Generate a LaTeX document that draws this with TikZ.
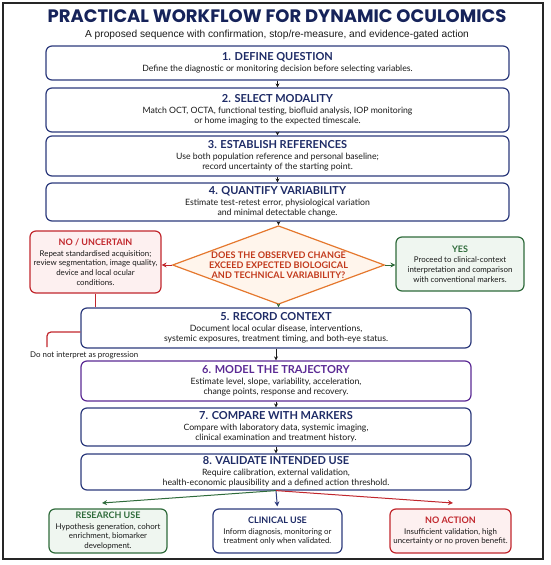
\documentclass[tikz,border=0pt]{standalone}
\usepackage{fontspec}
\setmainfont{Lato}
\newfontfamily\poppinsfont{Poppins}
\newfontfamily\subfont{Liberation Sans}
\usetikzlibrary{arrows.meta,shapes.geometric,calc}
\definecolor{navyT}{HTML}{16235A}
\definecolor{navyB}{HTML}{2C3A7C}
\definecolor{navyH}{HTML}{1E2B66}
\definecolor{redB}{HTML}{C1272D}
\definecolor{redF}{HTML}{FDF0F0}
\definecolor{greenB}{HTML}{2F6B3B}
\definecolor{greenF}{HTML}{EFF6F0}
\definecolor{orangeB}{HTML}{E5782E}
\definecolor{orangeF}{HTML}{FFF5EC}
\definecolor{orangeT}{HTML}{C2391B}
\definecolor{purpleB}{HTML}{5B2A94}
\definecolor{txt}{HTML}{1A1A1A}
\newcommand{\bodyfs}{\fontsize{8.7}{10.1}\selectfont}
\newcommand{\smbodyfs}{\fontsize{7.9}{9.6}\selectfont}
\newcommand{\hdfs}{\fontsize{11}{12.5}\selectfont\bfseries}
\newcommand{\smhdfs}{\fontsize{9}{11}\selectfont\bfseries}
\tikzset{
  boxbase/.style={draw, line width=1.2pt, rounded corners=6pt, align=center, inner sep=0pt, text=txt, font=\bodyfs},
  widebox/.style={boxbase, draw=navyB, fill=white, minimum width=463pt},
  narrowbox/.style={boxbase, draw=navyB, fill=white, minimum width=390pt},
  smallbox/.style={boxbase, font=\smbodyfs},
  redbox/.style={smallbox, draw=redB, fill=redF},
  greenbox/.style={smallbox, draw=greenB, fill=greenF},
  arr/.style={draw=txt, line width=0.8pt, -{Stealth[length=4pt,width=4pt]}},
  carr/.style={line width=1pt, -{Stealth[length=5pt,width=5pt]}},
}
\begin{document}
\begin{tikzpicture}[x=1pt,y=-1pt]
\useasboundingbox (0,0) rectangle (550,565);
\draw[line width=1.5pt, black!85] (3,3) rectangle (543,559);

\node[font=\poppinsfont\bfseries\fontsize{18}{20}\selectfont, text=navyT] (title) at (277,16) {PRACTICAL WORKFLOW FOR DYNAMIC OCULOMICS};
\node[font=\subfont\fontsize{10.2}{12}\selectfont, text=txt] (subtitle) at (277,35) {A proposed sequence with confirmation, stop/re-measure, and evidence-gated action};

\node[widebox, minimum height=34pt] (b1) at (277.5,63) {{\hdfs\color{navyH}1. DEFINE QUESTION}\\[1pt]Define the diagnostic or monitoring decision before selecting variables.};
\node[widebox, minimum height=44pt] (b2) at (277.5,110) {{\hdfs\color{navyH}2. SELECT MODALITY}\\[1pt]Match OCT, OCTA, functional testing, biofluid analysis, IOP monitoring\\or home imaging to the expected timescale.};
\node[widebox, minimum height=40pt] (b3) at (277.5,156) {{\hdfs\color{navyH}3. ESTABLISH REFERENCES}\\[1pt]Use both population reference and personal baseline;\\record uncertainty of the starting point.};
\node[widebox, minimum height=38pt] (b4) at (277.5,202) {{\hdfs\color{navyH}4. QUANTIFY VARIABILITY}\\[1pt]Estimate test-retest error, physiological variation\\and minimal detectable change.};

\node[diamond, aspect=2.7, draw=orangeB, fill=orangeF, line width=1.2pt, inner sep=0pt, minimum width=205pt, minimum height=76pt, align=center, text=orangeT, font=\fontsize{9.1}{10.2}\selectfont\bfseries] (dq) at (278.5,265) {DOES THE OBSERVED CHANGE\\EXCEED EXPECTED BIOLOGICAL\\AND TECHNICAL VARIABILITY?};

\node[redbox, minimum width=131pt, minimum height=62pt] (no) at (95.5,262) {{\smhdfs\color{redB}NO / UNCERTAIN}\\[1pt]Repeat standardised acquisition;\\review segmentation, image quality,\\device and local ocular\\conditions.};
\node[greenbox, minimum width=128pt, minimum height=54pt] (yes) at (460,264) {{\smhdfs\color{greenB}YES}\\[1pt]Proceed to clinical-context\\interpretation and comparison\\with conventional markers.};

\node[narrowbox, minimum height=40pt] (b5) at (276,328) {{\hdfs\color{navyH}5. RECORD CONTEXT}\\[1pt]Document local ocular disease, interventions,\\systemic exposures, treatment timing, and both-eye status.};
\node[narrowbox, draw=purpleB, minimum height=40pt] (b6) at (276,381) {{\hdfs\color{purpleB}6. MODEL THE TRAJECTORY}\\[1pt]Estimate level, slope, variability, acceleration,\\change points, response and recovery.};
\node[narrowbox, minimum height=38pt] (b7) at (276,427) {{\hdfs\color{navyH}7. COMPARE WITH MARKERS}\\[1pt]Compare with laboratory data, systemic imaging,\\clinical examination and treatment history.};
\node[narrowbox, minimum height=36pt] (b8) at (276,472) {{\hdfs\color{navyH}8. VALIDATE INTENDED USE}\\[1pt]Require calibration, external validation,\\health-economic plausibility and a defined action threshold.};

\node[greenbox, minimum width=118pt, minimum height=44pt] (res) at (108,531) {{\smhdfs\color{greenB}RESEARCH USE}\\[1pt]Hypothesis generation, cohort\\enrichment, biomarker\\development.};
\node[smallbox, draw=navyB, fill=white, minimum width=129pt, minimum height=44pt] (cli) at (277.5,531) {{\smhdfs\color{navyH}CLINICAL USE}\\[1pt]Inform diagnosis, monitoring or\\treatment only when validated.};
\node[redbox, minimum width=121pt, minimum height=44pt] (noa) at (450.5,531) {{\smhdfs\color{redB}NO ACTION}\\[1pt]Insufficient validation, high\\uncertainty or no proven benefit.};

\node[anchor=west, font=\smbodyfs, text=txt, inner sep=0pt] (dnt) at (30,355) {Do not interpret as progression};
\coordinate (dn) at (47,347);
\coordinate (resT) at (102,503);
\coordinate (noaT) at (453,503);

% connectors
\draw[arr] (b1) -- (b2);
\draw[arr] (b2) -- (b3);
\draw[arr] (b3) -- (b4);
\draw[arr] (b4.south -| dq.north) -- (dq.north);
\draw[line width=1pt, draw=redB, -{Stealth[length=5pt,width=5pt]}] (dq.west) -- (no.east |- dq.west);
\draw[line width=1pt, draw=greenB, -{Stealth[length=5pt,width=5pt]}] (dq.east) -- (yes.west |- dq.east);
\draw[line width=1pt, draw=greenB, -{Stealth[length=4pt,width=4pt]}] (dq.south) -- (dq.south |- b5.north);
\draw[line width=1.2pt, draw=redB] (no.south) -- (no.south |- b5.north);
\draw[line width=1.2pt, draw=redB, rounded corners=4pt] ($(b5.west)+(0,4)$) -| (dn);
\draw[arr] (b5) -- (b6);
\draw[arr] (b6) -- (b7);
\draw[arr] (b7) -- (b8);
\draw[carr, draw=greenB] (b8.south) -- (resT);
\draw[carr, draw=navyB, shorten >=2pt] (b8.south) -- (cli.north);
\draw[carr, draw=redB] (b8.south) -- (noaT);
\end{tikzpicture}
\end{document}
